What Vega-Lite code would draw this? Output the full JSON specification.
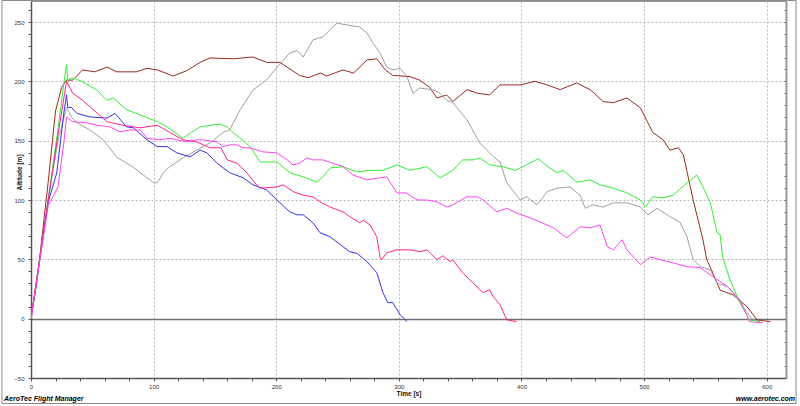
{
  "$schema": "https://vega.github.io/schema/vega-lite/v6.json",
  "description": "Altitude over time, six flights",
  "width": 755,
  "height": 377,
  "autosize": "none",
  "padding": {"left": 31, "top": 1, "right": 14, "bottom": 28},
  "background": "white",
  "config": {
    "font": "Liberation Sans",
    "view": {"stroke": "#999999", "strokeWidth": 1}
  },
  "datasets": {
    "flights": [
      {"series": "Brown", "time": 0, "altitude": 0}, {"series": "Brown", "time": 5, "altitude": 32}, {"series": "Brown", "time": 14, "altitude": 115}, {"series": "Brown", "time": 20, "altitude": 175}, {"series": "Brown", "time": 25, "altitude": 195}, {"series": "Brown", "time": 29, "altitude": 201}, {"series": "Brown", "time": 34, "altitude": 201}, {"series": "Brown", "time": 42, "altitude": 209.6}, {"series": "Brown", "time": 52, "altitude": 208}, {"series": "Brown", "time": 62, "altitude": 212}, {"series": "Brown", "time": 70, "altitude": 208}, {"series": "Brown", "time": 86, "altitude": 208}, {"series": "Brown", "time": 94.6, "altitude": 211}, {"series": "Brown", "time": 103, "altitude": 209.6}, {"series": "Brown", "time": 116, "altitude": 204.5}, {"series": "Brown", "time": 127, "altitude": 209}, {"series": "Brown", "time": 138, "altitude": 216}, {"series": "Brown", "time": 146, "altitude": 219.7}, {"series": "Brown", "time": 165, "altitude": 219}, {"series": "Brown", "time": 181, "altitude": 220.5}, {"series": "Brown", "time": 192, "altitude": 216}, {"series": "Brown", "time": 203, "altitude": 216}, {"series": "Brown", "time": 219, "altitude": 205}, {"series": "Brown", "time": 226, "altitude": 203}, {"series": "Brown", "time": 236, "altitude": 207}, {"series": "Brown", "time": 241, "altitude": 204.5}, {"series": "Brown", "time": 254.5, "altitude": 209.6}, {"series": "Brown", "time": 263, "altitude": 207}, {"series": "Brown", "time": 274, "altitude": 218}, {"series": "Brown", "time": 282, "altitude": 219}, {"series": "Brown", "time": 289, "altitude": 209.6}, {"series": "Brown", "time": 295, "altitude": 205}, {"series": "Brown", "time": 309, "altitude": 204}, {"series": "Brown", "time": 317, "altitude": 201}, {"series": "Brown", "time": 325, "altitude": 195}, {"series": "Brown", "time": 331, "altitude": 186}, {"series": "Brown", "time": 339, "altitude": 188.5}, {"series": "Brown", "time": 344, "altitude": 183}, {"series": "Brown", "time": 355.6, "altitude": 193}, {"series": "Brown", "time": 364, "altitude": 190}, {"series": "Brown", "time": 374, "altitude": 188.6}, {"series": "Brown", "time": 382.5, "altitude": 197}, {"series": "Brown", "time": 399, "altitude": 197}, {"series": "Brown", "time": 411, "altitude": 200}, {"series": "Brown", "time": 421, "altitude": 197}, {"series": "Brown", "time": 431.5, "altitude": 193}, {"series": "Brown", "time": 445, "altitude": 198.6}, {"series": "Brown", "time": 456, "altitude": 193}, {"series": "Brown", "time": 466.6, "altitude": 183}, {"series": "Brown", "time": 475, "altitude": 182}, {"series": "Brown", "time": 486, "altitude": 186}, {"series": "Brown", "time": 497, "altitude": 177.6}, {"series": "Brown", "time": 507, "altitude": 157}, {"series": "Brown", "time": 515.5, "altitude": 150.7}, {"series": "Brown", "time": 521, "altitude": 142}, {"series": "Brown", "time": 528, "altitude": 144}, {"series": "Brown", "time": 532, "altitude": 138}, {"series": "Brown", "time": 540, "altitude": 100}, {"series": "Brown", "time": 548, "altitude": 66.5}, {"series": "Brown", "time": 551, "altitude": 50}, {"series": "Brown", "time": 555, "altitude": 41}, {"series": "Brown", "time": 562, "altitude": 24}, {"series": "Brown", "time": 572.6, "altitude": 20}, {"series": "Brown", "time": 584, "altitude": 10}, {"series": "Brown", "time": 592, "altitude": -1}, {"series": "Brown", "time": 603, "altitude": -2.5},

      {"series": "Grey", "time": 0, "altitude": 0}, {"series": "Grey", "time": 14, "altitude": 100}, {"series": "Grey", "time": 22, "altitude": 150}, {"series": "Grey", "time": 29, "altitude": 178}, {"series": "Grey", "time": 33, "altitude": 170}, {"series": "Grey", "time": 37.5, "altitude": 165}, {"series": "Grey", "time": 48, "altitude": 159}, {"series": "Grey", "time": 59, "altitude": 150.7}, {"series": "Grey", "time": 70, "altitude": 136}, {"series": "Grey", "time": 83, "altitude": 128}, {"series": "Grey", "time": 94.6, "altitude": 118.7}, {"series": "Grey", "time": 100, "altitude": 114.5}, {"series": "Grey", "time": 103, "altitude": 114.5}, {"series": "Grey", "time": 108, "altitude": 123}, {"series": "Grey", "time": 113, "altitude": 128}, {"series": "Grey", "time": 124, "altitude": 135.5}, {"series": "Grey", "time": 135, "altitude": 142}, {"series": "Grey", "time": 146, "altitude": 148}, {"series": "Grey", "time": 156.6, "altitude": 157}, {"series": "Grey", "time": 162, "altitude": 159}, {"series": "Grey", "time": 170.5, "altitude": 176}, {"series": "Grey", "time": 181, "altitude": 192.8}, {"series": "Grey", "time": 192, "altitude": 201}, {"series": "Grey", "time": 200.6, "altitude": 212}, {"series": "Grey", "time": 211, "altitude": 223.9}, {"series": "Grey", "time": 217, "altitude": 226}, {"series": "Grey", "time": 222, "altitude": 220.5}, {"series": "Grey", "time": 230, "altitude": 235}, {"series": "Grey", "time": 238, "altitude": 237.4}, {"series": "Grey", "time": 246, "altitude": 245.8}, {"series": "Grey", "time": 249.6, "altitude": 249}, {"series": "Grey", "time": 257.7, "altitude": 247.5}, {"series": "Grey", "time": 268, "altitude": 245.8}, {"series": "Grey", "time": 274, "altitude": 240.7}, {"series": "Grey", "time": 279, "altitude": 232}, {"series": "Grey", "time": 284.6, "altitude": 224}, {"series": "Grey", "time": 290, "altitude": 212}, {"series": "Grey", "time": 295, "altitude": 209.6}, {"series": "Grey", "time": 301, "altitude": 211}, {"series": "Grey", "time": 306.7, "altitude": 203.7}, {"series": "Grey", "time": 311.6, "altitude": 190}, {"series": "Grey", "time": 317, "altitude": 194.4}, {"series": "Grey", "time": 328, "altitude": 192.8}, {"series": "Grey", "time": 333.6, "altitude": 190}, {"series": "Grey", "time": 339, "altitude": 184}, {"series": "Grey", "time": 344, "altitude": 182}, {"series": "Grey", "time": 355.6, "altitude": 167.5}, {"series": "Grey", "time": 366, "altitude": 148}, {"series": "Grey", "time": 377, "altitude": 136.4}, {"series": "Grey", "time": 382.5, "altitude": 132}, {"series": "Grey", "time": 388, "altitude": 114.5}, {"series": "Grey", "time": 399, "altitude": 100}, {"series": "Grey", "time": 404, "altitude": 102.7}, {"series": "Grey", "time": 412.7, "altitude": 96}, {"series": "Grey", "time": 421, "altitude": 107}, {"series": "Grey", "time": 429, "altitude": 110}, {"series": "Grey", "time": 439.6, "altitude": 111}, {"series": "Grey", "time": 447.8, "altitude": 104}, {"series": "Grey", "time": 452, "altitude": 93}, {"series": "Grey", "time": 458, "altitude": 96}, {"series": "Grey", "time": 466.6, "altitude": 94}, {"series": "Grey", "time": 475, "altitude": 97.6}, {"series": "Grey", "time": 486, "altitude": 97.6}, {"series": "Grey", "time": 497, "altitude": 94}, {"series": "Grey", "time": 503, "altitude": 87.5}, {"series": "Grey", "time": 510.6, "altitude": 93}, {"series": "Grey", "time": 521, "altitude": 86}, {"series": "Grey", "time": 529, "altitude": 81.6}, {"series": "Grey", "time": 535, "altitude": 69}, {"series": "Grey", "time": 540, "altitude": 49.7}, {"series": "Grey", "time": 545.7, "altitude": 44}, {"series": "Grey", "time": 554, "altitude": 41}, {"series": "Grey", "time": 559.5, "altitude": 30}, {"series": "Grey", "time": 568, "altitude": 27}, {"series": "Grey", "time": 572.6, "altitude": 22}, {"series": "Grey", "time": 584, "altitude": 5}, {"series": "Grey", "time": 589, "altitude": -1}, {"series": "Grey", "time": 594.6, "altitude": -2.5},

      {"series": "Green", "time": 0, "altitude": 0}, {"series": "Green", "time": 14, "altitude": 100}, {"series": "Green", "time": 22, "altitude": 160}, {"series": "Green", "time": 27, "altitude": 200}, {"series": "Green", "time": 29, "altitude": 214}, {"series": "Green", "time": 30, "altitude": 201}, {"series": "Green", "time": 34, "altitude": 203}, {"series": "Green", "time": 42, "altitude": 199.6}, {"series": "Green", "time": 53.6, "altitude": 192.8}, {"series": "Green", "time": 62, "altitude": 184}, {"series": "Green", "time": 67, "altitude": 186}, {"series": "Green", "time": 78, "altitude": 176}, {"series": "Green", "time": 89, "altitude": 171.7}, {"series": "Green", "time": 103, "altitude": 166}, {"series": "Green", "time": 111, "altitude": 161.6}, {"series": "Green", "time": 124, "altitude": 152}, {"series": "Green", "time": 130, "altitude": 156.6}, {"series": "Green", "time": 138, "altitude": 161.6}, {"series": "Green", "time": 154, "altitude": 164}, {"series": "Green", "time": 160, "altitude": 161.6}, {"series": "Green", "time": 165, "altitude": 156.6}, {"series": "Green", "time": 173, "altitude": 150}, {"series": "Green", "time": 178.6, "altitude": 145}, {"series": "Green", "time": 187, "altitude": 132}, {"series": "Green", "time": 200.6, "altitude": 132}, {"series": "Green", "time": 211, "altitude": 123}, {"series": "Green", "time": 222, "altitude": 119.5}, {"series": "Green", "time": 233, "altitude": 115}, {"series": "Green", "time": 238, "altitude": 119.5}, {"series": "Green", "time": 244, "altitude": 127}, {"series": "Green", "time": 254.5, "altitude": 128}, {"series": "Green", "time": 266, "altitude": 123.7}, {"series": "Green", "time": 276.5, "altitude": 125}, {"series": "Green", "time": 287, "altitude": 125}, {"series": "Green", "time": 298.5, "altitude": 129.6}, {"series": "Green", "time": 309, "altitude": 125}, {"series": "Green", "time": 323, "altitude": 128}, {"series": "Green", "time": 333.6, "altitude": 118.7}, {"series": "Green", "time": 344, "altitude": 125}, {"series": "Green", "time": 352, "altitude": 133.8}, {"series": "Green", "time": 360.5, "altitude": 133.8}, {"series": "Green", "time": 366, "altitude": 135.5}, {"series": "Green", "time": 374, "altitude": 129.6}, {"series": "Green", "time": 385, "altitude": 128}, {"series": "Green", "time": 394.8, "altitude": 125}, {"series": "Green", "time": 404, "altitude": 129.6}, {"series": "Green", "time": 413.5, "altitude": 134.7}, {"series": "Green", "time": 423, "altitude": 127}, {"series": "Green", "time": 429, "altitude": 123}, {"series": "Green", "time": 434, "altitude": 125}, {"series": "Green", "time": 445, "altitude": 115}, {"series": "Green", "time": 456, "altitude": 117}, {"series": "Green", "time": 464, "altitude": 112.8}, {"series": "Green", "time": 475, "altitude": 110}, {"series": "Green", "time": 486, "altitude": 106}, {"series": "Green", "time": 497, "altitude": 100}, {"series": "Green", "time": 501, "altitude": 94}, {"series": "Green", "time": 507, "altitude": 102.7}, {"series": "Green", "time": 515.5, "altitude": 101.8}, {"series": "Green", "time": 523.6, "altitude": 104}, {"series": "Green", "time": 535, "altitude": 114.5}, {"series": "Green", "time": 543, "altitude": 121}, {"series": "Green", "time": 548, "altitude": 111}, {"series": "Green", "time": 554, "altitude": 97.6}, {"series": "Green", "time": 559.5, "altitude": 72.4}, {"series": "Green", "time": 562, "altitude": 70.7}, {"series": "Green", "time": 564, "altitude": 52}, {"series": "Green", "time": 570, "altitude": 32.8}, {"series": "Green", "time": 578, "altitude": 13.5}, {"series": "Green", "time": 586, "altitude": -1}, {"series": "Green", "time": 594.6, "altitude": -2.5},

      {"series": "Blue", "time": 0, "altitude": 0}, {"series": "Blue", "time": 14, "altitude": 98}, {"series": "Blue", "time": 21, "altitude": 123}, {"series": "Blue", "time": 27, "altitude": 175}, {"series": "Blue", "time": 29, "altitude": 188.6}, {"series": "Blue", "time": 30, "altitude": 178}, {"series": "Blue", "time": 33, "altitude": 178}, {"series": "Blue", "time": 37.5, "altitude": 173}, {"series": "Blue", "time": 48, "altitude": 170}, {"series": "Blue", "time": 62, "altitude": 169}, {"series": "Blue", "time": 68.5, "altitude": 173}, {"series": "Blue", "time": 78, "altitude": 161.6}, {"series": "Blue", "time": 83.6, "altitude": 160.8}, {"series": "Blue", "time": 94.6, "altitude": 150.7}, {"series": "Blue", "time": 103, "altitude": 145}, {"series": "Blue", "time": 111, "altitude": 145}, {"series": "Blue", "time": 119, "altitude": 139.7}, {"series": "Blue", "time": 129.7, "altitude": 136.4}, {"series": "Blue", "time": 138, "altitude": 142}, {"series": "Blue", "time": 143.5, "altitude": 139.7}, {"series": "Blue", "time": 151.7, "altitude": 131}, {"series": "Blue", "time": 162, "altitude": 123}, {"series": "Blue", "time": 173, "altitude": 118.7}, {"series": "Blue", "time": 181, "altitude": 112.8}, {"series": "Blue", "time": 192, "altitude": 108.6}, {"series": "Blue", "time": 200.6, "altitude": 100}, {"series": "Blue", "time": 211, "altitude": 90}, {"series": "Blue", "time": 217, "altitude": 87.5}, {"series": "Blue", "time": 222, "altitude": 87.5}, {"series": "Blue", "time": 230, "altitude": 80.8}, {"series": "Blue", "time": 235.7, "altitude": 72.4}, {"series": "Blue", "time": 244, "altitude": 69}, {"series": "Blue", "time": 254.5, "altitude": 60.6}, {"series": "Blue", "time": 260, "altitude": 56.4}, {"series": "Blue", "time": 266, "altitude": 55}, {"series": "Blue", "time": 274, "altitude": 48}, {"series": "Blue", "time": 282, "altitude": 38.7}, {"series": "Blue", "time": 287, "altitude": 21.9}, {"series": "Blue", "time": 291, "altitude": 13.5}, {"series": "Blue", "time": 295, "altitude": 13.5}, {"series": "Blue", "time": 301, "altitude": 3.4}, {"series": "Blue", "time": 306.7, "altitude": -2.5},

      {"series": "Pink", "time": 0, "altitude": 0}, {"series": "Pink", "time": 14, "altitude": 100}, {"series": "Pink", "time": 22, "altitude": 155}, {"series": "Pink", "time": 29, "altitude": 200}, {"series": "Pink", "time": 34, "altitude": 190}, {"series": "Pink", "time": 42, "altitude": 184}, {"series": "Pink", "time": 51, "altitude": 176}, {"series": "Pink", "time": 62, "altitude": 166}, {"series": "Pink", "time": 75, "altitude": 163}, {"series": "Pink", "time": 89, "altitude": 160.8}, {"series": "Pink", "time": 103, "altitude": 163}, {"series": "Pink", "time": 113, "altitude": 157}, {"series": "Pink", "time": 124, "altitude": 150.7}, {"series": "Pink", "time": 135, "altitude": 149}, {"series": "Pink", "time": 146, "altitude": 144}, {"series": "Pink", "time": 155, "altitude": 144}, {"series": "Pink", "time": 160, "altitude": 133.8}, {"series": "Pink", "time": 168, "altitude": 131}, {"series": "Pink", "time": 176, "altitude": 123}, {"series": "Pink", "time": 184, "altitude": 112.8}, {"series": "Pink", "time": 187, "altitude": 110}, {"series": "Pink", "time": 200.6, "altitude": 111}, {"series": "Pink", "time": 205.7, "altitude": 112.8}, {"series": "Pink", "time": 214, "altitude": 107}, {"series": "Pink", "time": 222, "altitude": 104}, {"series": "Pink", "time": 230, "altitude": 102.7}, {"series": "Pink", "time": 235.7, "altitude": 98.5}, {"series": "Pink", "time": 244, "altitude": 94}, {"series": "Pink", "time": 254.5, "altitude": 90}, {"series": "Pink", "time": 260, "altitude": 86}, {"series": "Pink", "time": 268, "altitude": 80.8}, {"series": "Pink", "time": 271, "altitude": 83}, {"series": "Pink", "time": 276.5, "altitude": 79}, {"series": "Pink", "time": 282, "altitude": 69}, {"series": "Pink", "time": 284.6, "altitude": 52}, {"series": "Pink", "time": 286, "altitude": 49.7}, {"series": "Pink", "time": 290, "altitude": 55.5}, {"series": "Pink", "time": 298.5, "altitude": 58}, {"series": "Pink", "time": 309, "altitude": 58}, {"series": "Pink", "time": 317, "altitude": 56.4}, {"series": "Pink", "time": 323, "altitude": 58}, {"series": "Pink", "time": 331, "altitude": 49.7}, {"series": "Pink", "time": 336, "altitude": 53}, {"series": "Pink", "time": 341.8, "altitude": 48}, {"series": "Pink", "time": 344, "altitude": 49.7}, {"series": "Pink", "time": 352, "altitude": 38.7}, {"series": "Pink", "time": 360.5, "altitude": 30}, {"series": "Pink", "time": 368.7, "altitude": 21.9}, {"series": "Pink", "time": 374, "altitude": 24.4}, {"series": "Pink", "time": 377, "altitude": 18.5}, {"series": "Pink", "time": 382.5, "altitude": 11.8}, {"series": "Pink", "time": 388, "altitude": -1}, {"series": "Pink", "time": 396, "altitude": -2.5},

      {"series": "Magenta", "time": 0, "altitude": 0}, {"series": "Magenta", "time": 14, "altitude": 95}, {"series": "Magenta", "time": 22, "altitude": 111}, {"series": "Magenta", "time": 27, "altitude": 150}, {"series": "Magenta", "time": 29, "altitude": 170}, {"series": "Magenta", "time": 34, "altitude": 166}, {"series": "Magenta", "time": 45.6, "altitude": 165}, {"series": "Magenta", "time": 53.6, "altitude": 163}, {"series": "Magenta", "time": 64.4, "altitude": 161.6}, {"series": "Magenta", "time": 72.6, "altitude": 157.4}, {"series": "Magenta", "time": 81, "altitude": 159}, {"series": "Magenta", "time": 89, "altitude": 159}, {"series": "Magenta", "time": 94.6, "altitude": 152}, {"series": "Magenta", "time": 105, "altitude": 150.7}, {"series": "Magenta", "time": 113, "altitude": 152}, {"series": "Magenta", "time": 127, "altitude": 149}, {"series": "Magenta", "time": 135, "altitude": 150.7}, {"series": "Magenta", "time": 140, "altitude": 150.7}, {"series": "Magenta", "time": 151.7, "altitude": 149}, {"series": "Magenta", "time": 156.6, "altitude": 145}, {"series": "Magenta", "time": 162, "altitude": 146.5}, {"series": "Magenta", "time": 168, "altitude": 146.5}, {"series": "Magenta", "time": 173, "altitude": 144}, {"series": "Magenta", "time": 178.6, "altitude": 144}, {"series": "Magenta", "time": 189, "altitude": 140.6}, {"series": "Magenta", "time": 200.6, "altitude": 139.7}, {"series": "Magenta", "time": 209, "altitude": 133.8}, {"series": "Magenta", "time": 213.7, "altitude": 129.6}, {"series": "Magenta", "time": 219, "altitude": 131}, {"series": "Magenta", "time": 225, "altitude": 135.5}, {"series": "Magenta", "time": 230, "altitude": 133.8}, {"series": "Magenta", "time": 238, "altitude": 133.8}, {"series": "Magenta", "time": 246, "altitude": 131}, {"series": "Magenta", "time": 254.5, "altitude": 128}, {"series": "Magenta", "time": 262.6, "altitude": 121}, {"series": "Magenta", "time": 274, "altitude": 117}, {"series": "Magenta", "time": 284.6, "altitude": 118.7}, {"series": "Magenta", "time": 290, "altitude": 119.5}, {"series": "Magenta", "time": 298.5, "altitude": 106}, {"series": "Magenta", "time": 306, "altitude": 106}, {"series": "Magenta", "time": 315, "altitude": 100}, {"series": "Magenta", "time": 323, "altitude": 100}, {"series": "Magenta", "time": 331, "altitude": 98.5}, {"series": "Magenta", "time": 339, "altitude": 94}, {"series": "Magenta", "time": 344, "altitude": 96}, {"series": "Magenta", "time": 355.6, "altitude": 102.7}, {"series": "Magenta", "time": 364, "altitude": 102.7}, {"series": "Magenta", "time": 368.7, "altitude": 100}, {"series": "Magenta", "time": 380, "altitude": 90}, {"series": "Magenta", "time": 388, "altitude": 93}, {"series": "Magenta", "time": 396, "altitude": 89}, {"series": "Magenta", "time": 407, "altitude": 85}, {"series": "Magenta", "time": 415, "altitude": 81.6}, {"series": "Magenta", "time": 426, "altitude": 76.6}, {"series": "Magenta", "time": 437, "altitude": 68}, {"series": "Magenta", "time": 442, "altitude": 72.4}, {"series": "Magenta", "time": 448, "altitude": 77.4}, {"series": "Magenta", "time": 456, "altitude": 76.6}, {"series": "Magenta", "time": 464, "altitude": 79}, {"series": "Magenta", "time": 470, "altitude": 60.6}, {"series": "Magenta", "time": 475, "altitude": 58}, {"series": "Magenta", "time": 482, "altitude": 66.5}, {"series": "Magenta", "time": 486, "altitude": 58}, {"series": "Magenta", "time": 497, "altitude": 45.5}, {"series": "Magenta", "time": 505, "altitude": 52}, {"series": "Magenta", "time": 513, "altitude": 49.7}, {"series": "Magenta", "time": 523.6, "altitude": 47}, {"series": "Magenta", "time": 535, "altitude": 43.8}, {"series": "Magenta", "time": 545.7, "altitude": 43}, {"series": "Magenta", "time": 556, "altitude": 35.4}, {"series": "Magenta", "time": 568, "altitude": 27}, {"series": "Magenta", "time": 578, "altitude": 16}, {"series": "Magenta", "time": 586, "altitude": -2.5}, {"series": "Magenta", "time": 597, "altitude": -3.4}
    ]
  },
  "data": {"name": "flights"},
  "resolve": {"axis": {"x": "independent", "y": "independent"}},
  "layer": [
    {
      "mark": {"type": "line", "strokeWidth": 1, "clip": true},
      "encoding": {
        "x": {
          "field": "time", "type": "quantitative",
          "scale": {"domain": [0, 615.7], "nice": false, "zero": false},
          "axis": {
            "title": "Time [s]",
            "orient": "bottom",
            "values": [0, 20, 40, 60, 80, 100, 120, 140, 160, 180, 200, 220, 240, 260, 280, 300, 320, 340, 360, 380, 400, 420, 440, 460, 480, 500, 520, 540, 560, 580, 600],
            "labelExpr": "datum.value % 100 === 0 ? datum.label : ''",
            "labelOverlap": false, "labelFlush": false,
            "labelFontSize": 6, "labelColor": "#333333", "labelPadding": 2,
            "tickSize": 3, "tickColor": "#555555",
            "domainColor": "#555555", "domainWidth": 1.5,
            "grid": true, "gridDash": [2, 2], "gridWidth": 1,
            "gridColor": {"condition": {"test": "datum.value % 100 === 0 && datum.value > 0", "value": "#b8b8b8"}, "value": "transparent"},
            "titleFontSize": 6.5, "titleFontWeight": "bold", "titleColor": "#111111", "titlePadding": 1
          }
        },
        "y": {
          "field": "altitude", "type": "quantitative",
          "scale": {"domain": [-50, 267.7], "nice": false, "zero": false},
          "axis": {
            "title": "Altitude [m]",
            "orient": "left",
            "values": [-50, -40, -30, -20, -10, 0, 10, 20, 30, 40, 50, 60, 70, 80, 90, 100, 110, 120, 130, 140, 150, 160, 170, 180, 190, 200, 210, 220, 230, 240, 250, 260],
            "labelExpr": "datum.value % 50 === 0 ? datum.label : ''",
            "labelOverlap": false,
            "labelFontSize": 6, "labelColor": "#333333", "labelPadding": 4,
            "tickSize": 3, "tickColor": "#555555",
            "domainColor": "#555555", "domainWidth": 1.5,
            "grid": true,
            "gridColor": {"condition": {"test": "datum.value === 0", "value": "#707070"}, "value": "#b8b8b8"},
            "gridDash": {"condition": {"test": "datum.value === 0", "value": []}, "value": [2, 2]},
            "gridWidth": {"condition": {"test": "datum.value === 0", "value": 1.5}, "value": 1},
            "gridOpacity": {"condition": {"test": "datum.value % 50 === 0 && datum.value > -50", "value": 1}, "value": 0},
            "titleFontSize": 6.5, "titleFontWeight": "bold", "titleColor": "#111111",
            "titleX": -12, "titleY": 171, "titleBaseline": "middle", "titleAngle": -90
          }
        },
        "color": {
          "field": "series", "type": "nominal", "legend": null,
          "scale": {
            "domain": ["Brown", "Grey", "Green", "Blue", "Pink", "Magenta"],
            "range": ["#992a1e", "#a0a0a0", "#33ee33", "#3434ee", "#ff2288", "#ff44ee"]
          }
        }
      }
    },
    {
      "data": {"values": [{}]},
      "mark": {"type": "rect", "fillOpacity": 0, "stroke": "#8a8a8a", "strokeWidth": 1, "clip": false},
      "encoding": {
        "x": {"datum": -23.65, "type": "quantitative", "scale": {"domain": [0, 615.7], "nice": false, "zero": false}, "axis": null},
        "x2": {"datum": 623.9},
        "y": {
          "datum": 268.1, "type": "quantitative",
          "scale": {"domain": [-50, 267.7], "nice": false, "zero": false},
          "axis": {
            "orient": "right", "title": null, "labels": false, "grid": false,
            "values": [-50, -40, -30, -20, -10, 0, 10, 20, 30, 40, 50, 60, 70, 80, 90, 100, 110, 120, 130, 140, 150, 160, 170, 180, 190, 200, 210, 220, 230, 240, 250, 260],
            "domainColor": "#999999", "domainWidth": 2,
            "tickColor": "#555555", "tickSize": -2, "tickWidth": 1
          }
        },
        "y2": {"datum": -71.5}
      }
    },
    {
      "data": {"values": [{}]},
      "mark": {"type": "text", "text": "AeroTec Flight Manager", "align": "left", "baseline": "alphabetic", "fontSize": 7, "fontStyle": "italic", "fontWeight": "bold", "color": "#000000", "clip": false},
      "encoding": {
        "x": {"datum": -22, "type": "quantitative", "scale": {"domain": [0, 615.7], "nice": false, "zero": false}, "axis": null},
        "y": {"datum": -69.4, "type": "quantitative", "scale": {"domain": [-50, 267.7], "nice": false, "zero": false}, "axis": null}
      }
    },
    {
      "data": {"values": [{}]},
      "mark": {"type": "text", "text": "www.aerotec.com", "align": "right", "baseline": "alphabetic", "fontSize": 7, "fontStyle": "italic", "fontWeight": "bold", "color": "#000000", "clip": false},
      "encoding": {
        "x": {"datum": 623.1, "type": "quantitative", "scale": {"domain": [0, 615.7], "nice": false, "zero": false}, "axis": null},
        "y": {"datum": -69.4, "type": "quantitative", "scale": {"domain": [-50, 267.7], "nice": false, "zero": false}, "axis": null}
      }
    }
  ]
}
